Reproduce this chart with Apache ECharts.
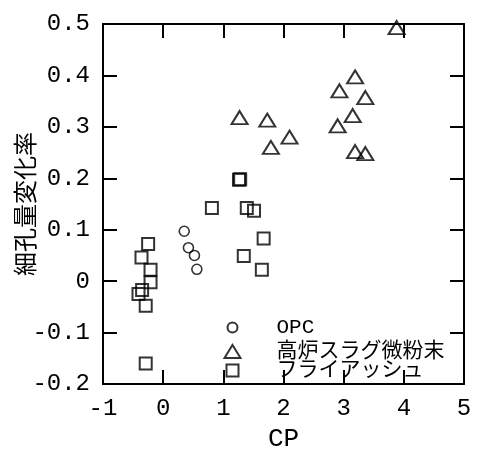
<!DOCTYPE html>
<html>
<head>
<meta charset="utf-8">
<script src="https://cdn.jsdelivr.net/npm/echarts@6/dist/echarts.min.js"></script>
<style>
  html, body { margin: 0; padding: 0; background: #fff; }
  #chart { width: 478px; height: 450px; }
</style>
</head>
<body>
<div id="chart"></div>
<script>
// series names (legend)
const seriesNames = ['OPC', '高炉スラグ微粉末', 'フライアッシュ'];

// [CP, 細孔量変化率]
const opcData = [[0.35, 0.097], [0.42, 0.065], [0.52, 0.05], [0.56, 0.023]];
const slagData = [
  [1.27, 0.318], [1.73, 0.313], [1.79, 0.26], [2.1, 0.28], [2.9, 0.302],
  [2.93, 0.37], [3.19, 0.397], [3.36, 0.357], [3.15, 0.322], [3.19, 0.252],
  [3.36, 0.248], [3.88, 0.493]
];
const flyAshData = [
  [-0.25, 0.072], [-0.36, 0.046], [-0.21, 0.022], [-0.21, -0.002],
  [-0.41, -0.025], [-0.35, -0.017], [-0.29, -0.048], [-0.29, -0.16],
  [0.81, 0.142], [1.26, 0.197], [1.28, 0.198], [1.39, 0.142],
  [1.51, 0.137], [1.67, 0.083], [1.34, 0.049], [1.64, 0.022]
];

const numFont = '"Liberation Mono", monospace';
const jpFont = '"Noto Sans CJK JP", sans-serif';

const axisLine = { show: true, onZero: false, lineStyle: { color: '#000', width: 2 } };
const axisTick = { show: true, inside: true, length: 14, lineStyle: { color: '#000', width: 2 } };

// one legend block per series so each icon keeps its own size
function legendItem(name, icon, top, w, h) {
  return {
    orient: 'vertical',
    left: 225 - w / 2,
    top: top,
    itemWidth: w,
    itemHeight: h,
    selectedMode: false,
    data: [{ name: name, icon: icon }],
    textStyle: {
      fontFamily: numFont + ', ' + jpFont,
      fontSize: 21,
      color: '#000',
      padding: [0, 0, 0, 277 - (233 + w / 2) - 5]
    }
  };
}

const chart = echarts.init(document.getElementById('chart'));
chart.setOption({
  animation: false,
  backgroundColor: '#fff',
  grid: { left: 103, right: 14, top: 24, bottom: 66, outerBoundsMode: 'none', containLabel: false },
  legend: [
    legendItem(seriesNames[0], 'circle', 312, 10, 10),
    legendItem(seriesNames[1], 'triangle', 336, 16, 13),
    legendItem(seriesNames[2], 'rect', 355, 12, 12)
  ],
  xAxis: [{
    type: 'value',
    min: -1, max: 5, interval: 1,
    name: 'CP',
    nameLocation: 'middle',
    nameGap: 42,
    nameMoveOverlap: false,
    nameTextStyle: { fontFamily: numFont, fontSize: 26, color: '#000' },
    axisLine, axisTick,
    splitLine: { show: false },
    axisLabel: { fontFamily: numFont, fontSize: 24, color: '#000', margin: 13 }
  }, {
    type: 'value',
    position: 'top',
    min: -1, max: 5, interval: 1,
    axisLine, axisTick,
    splitLine: { show: false },
    axisLabel: { show: false }
  }],
  yAxis: [{
    type: 'value',
    min: -0.2, max: 0.5, interval: 0.1,
    name: '細孔量変化率',
    nameLocation: 'middle',
    nameRotate: 90,
    nameGap: 66,
    nameMoveOverlap: false,
    nameTextStyle: { fontFamily: jpFont, fontSize: 24, color: '#000' },
    axisLine, axisTick,
    splitLine: { show: false },
    axisLabel: { fontFamily: numFont, fontSize: 24, color: '#000', margin: 13, padding: [0, 0, 8, 0] }
  }, {
    type: 'value',
    position: 'right',
    min: -0.2, max: 0.5, interval: 0.1,
    axisLine, axisTick,
    splitLine: { show: false },
    axisLabel: { show: false }
  }],
  series: [{
    name: seriesNames[0],
    type: 'scatter',
    symbol: 'circle',
    symbolSize: 10,
    clip: false,
    itemStyle: { color: 'none', borderColor: '#000', borderWidth: 1.6 },
    data: opcData
  }, {
    name: seriesNames[1],
    type: 'scatter',
    symbol: 'triangle',
    symbolSize: [16, 13],
    clip: false,
    itemStyle: { color: 'none', borderColor: '#000', borderWidth: 2 },
    data: slagData
  }, {
    name: seriesNames[2],
    type: 'scatter',
    symbol: 'rect',
    symbolSize: 12,
    clip: false,
    itemStyle: { color: 'none', borderColor: '#000', borderWidth: 2 },
    data: flyAshData
  }]
});
</script>
</body>
</html>
